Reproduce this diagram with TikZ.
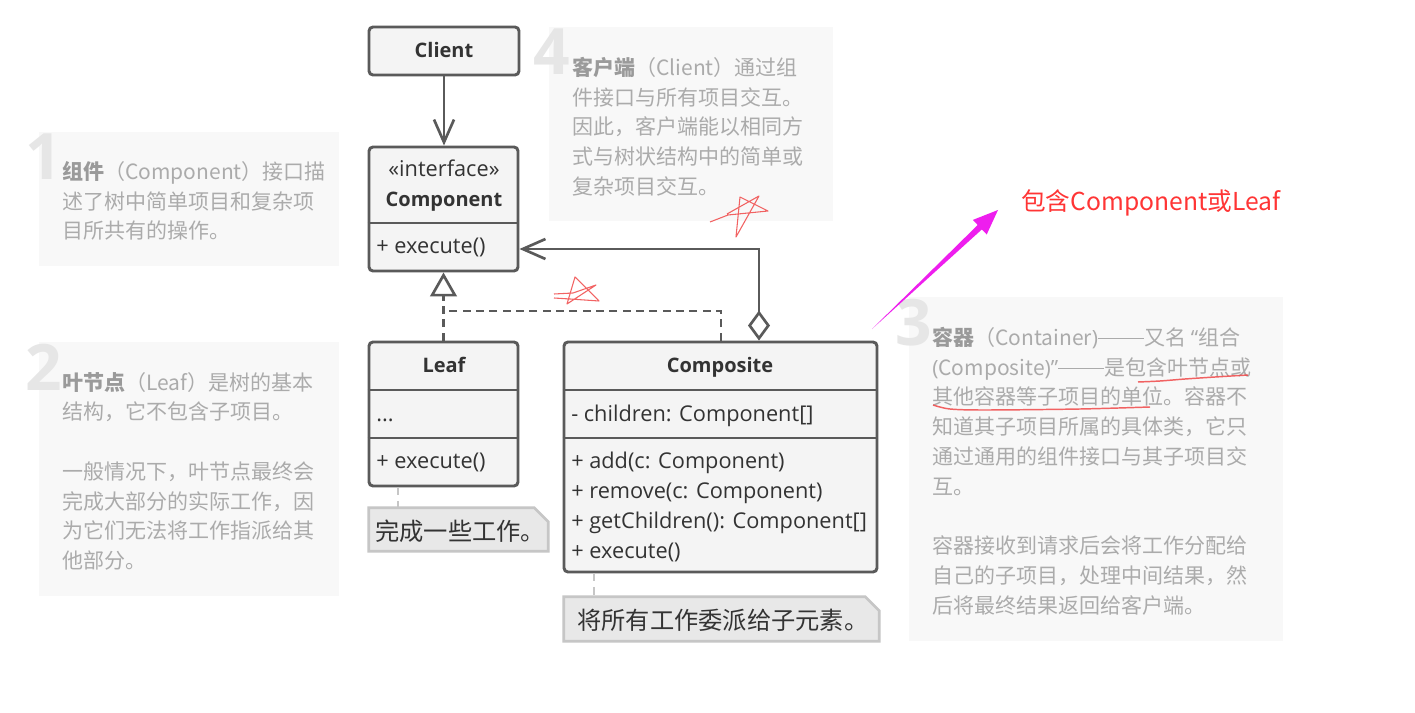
\documentclass[tikz,border=0pt]{standalone}
\usepackage{fontspec}
\setmainfont{Open Sans}
\newfontfamily\cjk{Noto Sans CJK SC}
\newfontfamily\latf{Open Sans}
\newcommand\longdash{\rule[0.3em]{2.2em}{0.06em}}
\usetikzlibrary{arrows.meta,fit}
\definecolor{boxc}{HTML}{5A5A5A}
\definecolor{boxfill}{HTML}{F4F4F4}
\definecolor{boxtext}{HTML}{333333}
\definecolor{notefill}{HTML}{E8E8E8}
\definecolor{noteborder}{HTML}{C6C6C6}
\definecolor{gbg}{HTML}{F8F8F8}
\definecolor{gtxt}{HTML}{ABABAB}
\definecolor{gbold}{HTML}{9A9A9A}
\definecolor{numc}{HTML}{E6E6E6}
\definecolor{redtxt}{HTML}{FF3535}
\definecolor{scrib}{HTML}{F04848}
\definecolor{magarrow}{HTML}{EE1EEE}
\begin{document}
\begin{tikzpicture}[x=0.75pt,y=-0.75pt,
  gnote/.style={fill=gbg,draw=none,inner sep=0},
  gtext/.style={anchor=north west,inner sep=0,align=left,text=gtxt,font=\cjk\fontsize{15.75}{22.3}\selectfont},
  bignum/.style={anchor=base west,inner sep=0,text=numc,font=\bfseries\fontsize{48}{48}\selectfont},
  umlbox/.style={draw=boxc,fill=boxfill,line width=2.2pt,rounded corners=3pt,inner sep=0},
  boxline/.style={draw=boxc,line width=2.2pt},
  lbl/.style={inner sep=0,text=boxtext,font=\fontsize{16.3}{19}\selectfont},
  boldlbl/.style={inner sep=0,text=boxtext,font=\bfseries\fontsize{15}{18}\selectfont},
  conn/.style={draw=boxc,line width=2pt},
  dashconn/.style={draw=boxc,line width=2pt,dash pattern=on 6pt off 4pt},
  notedash/.style={draw=noteborder,line width=2pt,dash pattern=on 6pt off 4pt},
  notebox/.style={fill=notefill,draw=noteborder,line width=2pt},
  notetxt/.style={anchor=west,inner sep=0,text=boxtext,font=\cjk\fontsize{18.2}{21}\selectfont},
  scribble/.style={draw=scrib,line width=0.8pt,opacity=0.85,line join=round},
  underl/.style={draw=scrib,line width=1.1pt,opacity=0.85}
]
\useasboundingbox (0,0) rectangle (1415,713);
\fill[white] (0,0) rectangle (1415,713);

% ---------- grey explanation notes ----------
\node[gnote,fit={(39,132) (339,266)}] (n1bg) {};
\node[bignum] (n1num) at (25,180) {1};
\node[gtext] (n1txt) at (62,161) {{\color{gbold}\bfseries 组件}（Component）接口描\\述了树中简单项目和复杂项\\目所共有的操作。};

\node[gnote,fit={(39,342) (339,596)}] (n2bg) {};
\node[bignum] (n2num) at (25,390) {2};
\node[gtext] (n2txt) at (62,372) {{\color{gbold}\bfseries 叶节点}（Leaf）是树的基本\\结构，它不包含子项目。\\[22.3pt]一般情况下，叶节点最终会\\完成大部分的实际工作，因\\为它们无法将工作指派给其\\他部分。};

\node[gnote,fit={(549,27) (833,221)}] (n4bg) {};
\node[bignum] (n4num) at (533,75) {4};
\node[gtext] (n4txt) at (572,57) {{\color{gbold}\bfseries 客户端}（Client）通过组\\件接口与所有项目交互。\\因此，客户端能以相同方\\式与树状结构中的简单或\\复杂项目交互。};

\node[gnote,fit={(909,297) (1283,641)}] (n3bg) {};
\node[bignum] (n3num) at (895,345) {3};
\node[gtext] (n3txt) at (932,327) {{\color{gbold}\bfseries 容器}（Container{\latf)}\longdash 又名 {\latf“}组合\\{\latf(}Composite{\latf)”}\longdash 是包含叶节点或\\其他容器等子项目的单位。容器不\\知道其子项目所属的具体类，它只\\通过通用的组件接口与其子项目交\\互。\\[22.3pt]容器接收到请求后会将工作分配给\\自己的子项目，处理中间结果，然\\后将最终结果返回给客户端。};

% ---------- UML classes ----------
\node[umlbox,fit={(369,27) (519,75)}] (client) {};
\node[boldlbl,anchor=base] (clientlbl) at (444,58) {Client};

\node[umlbox,fit={(369,147) (518,271)}] (component) {};
\draw[boxline] (component.west |- 0,223) -- (component.east |- 0,223);
\node[lbl,anchor=base] (iface) at (444,177) {«interface»};
\node[boldlbl,anchor=base] (complbl) at (444,207) {Component};
\node[lbl,anchor=base west] (compop) at (376,254) {+ execute()};

\node[umlbox,fit={(369,342) (518,486)}] (leaf) {};
\draw[boxline] (leaf.west |- 0,390) -- (leaf.east |- 0,390);
\draw[boxline] (leaf.west |- 0,438) -- (leaf.east |- 0,438);
\node[boldlbl,anchor=base] (leaflbl) at (444,373) {Leaf};
\node[lbl,anchor=base west] (leafattr) at (376,421) {...};
\node[lbl,anchor=base west] (leafop) at (376,468) {+ execute()};

\node[umlbox,fit={(564,342) (877,572)}] (composite) {};
\draw[boxline] (composite.west |- 0,390) -- (composite.east |- 0,390);
\draw[boxline] (composite.west |- 0,438) -- (composite.east |- 0,438);
\node[boldlbl,anchor=base] (complbl2) at (720,373) {Composite};
\node[lbl,anchor=base west] (cattr) at (571,421) {- children: Component[]};
\node[lbl,anchor=base west] (cop1) at (571,468) {+ add(c: Component)};
\node[lbl,anchor=base west] (cop2) at (571,498) {+ remove(c: Component)};
\node[lbl,anchor=base west] (cop3) at (571,528) {+ getChildren(): Component[]};
\node[lbl,anchor=base west] (cop4) at (571,558) {+ execute()};

% ---------- UML notes ----------
\node[inner sep=0,fit={(369,508) (548,551)}] (leafnote) {};
\filldraw[notebox] (leafnote.north west) -- ([xshift=-10.5pt]leafnote.north east) -- ([yshift=-10.5pt]leafnote.north east) -- (leafnote.south east) -- (leafnote.south west) -- cycle;
\node[notetxt] (leafnotetxt) at (375,531) {完成一些工作。};

\node[inner sep=0,fit={(564,597) (879,641)}] (compnote) {};
\filldraw[notebox] (compnote.north west) -- ([xshift=-10.5pt]compnote.north east) -- ([yshift=-10.5pt]compnote.north east) -- (compnote.south east) -- (compnote.south west) -- cycle;
\node[notetxt] (compnotetxt) at (577,620) {将所有工作委派给子元素。};

\coordinate (lnx) at (398,0);
\coordinate (cnx) at (594,0);
\draw[notedash] (leaf.south -| lnx) -- (leafnote.north -| lnx);
\draw[notedash] (composite.south -| cnx) -- (compnote.north -| cnx);

% ---------- connectors ----------
\draw[conn,-{Straight Barb[length=17pt,width=15pt]}] (client.south) -- (client.south |- component.north);
\draw[dashconn,-{Triangle[open,fill=white,length=18pt,width=20pt]}] (leaf.north) -- (leaf.north |- component.south);
\coordinate (dashcorner) at (721,311);
\draw[dashconn] (composite.north -| dashcorner) |- (leaf.north |- dashcorner);
\coordinate (aggx) at (759,249);
\draw[conn,{Diamond[open,fill=white,length=22.5pt,width=16.5pt]}-{Straight Barb[length=17pt,width=15pt]}] (composite.north -| aggx) |- (component.east |- aggx);

% ---------- red / magenta annotations ----------
\node[anchor=west,inner sep=0,text=redtxt,font=\cjk\fontsize{18.5}{22}\selectfont] (annot) at (1021,203) {包含Component或Leaf};
\coordinate (mtail) at (872,329);
\coordinate (mtip) at (998,210);
\fill[magarrow] (mtail) -- (981.9,229.4) -- (986.7,234.5) -- (mtip) -- (972.9,219.9) -- (977.7,225.0) -- cycle;

\draw[underl] plot[smooth] coordinates {(1138,382) (1160,381) (1185,379) (1215,377) (1248,375)};
\draw[underl] plot[smooth] coordinates {(933,405) (950,409) (985,410) (1080,409) (1150,407)};

\draw[scribble] (710,222) -- (728,215) -- (768,211) -- (740,197) -- (736,237) -- (759,196) -- (727,214);
\draw[scribble] (554,294) -- (573,293) -- (596,285) -- (567,304) -- (575,277) -- (599,301) -- (570,299) -- (554,298);
\end{tikzpicture}
\end{document}
